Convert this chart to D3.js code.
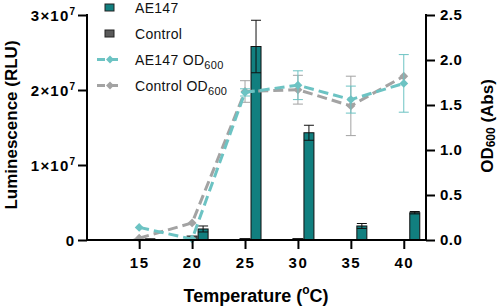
<!DOCTYPE html>
<html>
<head>
<meta charset="utf-8">
<script src="https://cdn.jsdelivr.net/npm/d3@7"></script>
<style>
  body { margin: 0; background: #fff; }
  text { font-family: Arial, "Liberation Sans", sans-serif; }
</style>
</head>
<body>
<svg id="chart" width="498" height="307"></svg>
<script>
// temperatures (oC)
const temps = [15, 20, 25, 30, 35, 40];

// luminescence (RLU), mean and sd
const lumAE147 = [0.1e6, 1.47e6, 2.58e7, 1.43e7, 1.87e6, 3.64e6];
const lumAE147Err = [0.05e6, 0.4e6, 0.35e7, 0.1e7, 0.33e6, 0.16e6];
const lumControl = [0.1e6, 0.53e6, 0.2e6, 0.2e6, 0, 0];

// OD600 (Abs), mean and sd
const odAE147 = [0.14, 0.01, 1.64, 1.72, 1.56, 1.74];
const odAE147Err = [0, 0, 0.04, 0.16, 0.15, 0.32];
const odControl = [0.02, 0.19, 1.65, 1.67, 1.49, 1.82];
const odControlErr = [0, 0, 0.12, 0.16, 0.33, 0];

const lumTicks = [0, 1e7, 2e7, 3e7];
const odTicks = [0, 0.5, 1.0, 1.5, 2.0, 2.5];

const teal = "#117f7f";
const tealLine = "#6cc3c3";
const grayLine = "#a3a3a3";
const controlFill = "#5a5a5a";

const svg = d3.select("#chart");
const pLeft = 87, pRight = 426, pTop = 15, pBottom = 240;

const x = d3.scaleLinear().domain([10.07, 42.1]).range([pLeft, pRight]);
const yL = d3.scaleLinear().domain([0, 3e7]).range([pBottom, pTop]);
const yR = d3.scaleLinear().domain([0, 2.5]).range([pBottom, pTop]);

const barW = 10;

// bars
const bars = svg.append("g");
temps.forEach(function(t, i) {
  // control bar centred on tick
  bars.append("rect")
    .attr("x", x(t) - barW / 2)
    .attr("y", yL(lumControl[i]))
    .attr("width", barW)
    .attr("height", pBottom - yL(lumControl[i]))
    .attr("fill", controlFill)
    .attr("stroke", "#222")
    .attr("stroke-width", 1);
  // AE147 bar just right of tick
  bars.append("rect")
    .attr("x", x(t) + barW / 2 + 1)
    .attr("y", yL(lumAE147[i]))
    .attr("width", barW)
    .attr("height", pBottom - yL(lumAE147[i]))
    .attr("fill", teal)
    .attr("stroke", "#111")
    .attr("stroke-width", 1);
  if (lumAE147Err[i] > 0) {
    const cx = x(t) + barW + 1;
    const y1 = yL(lumAE147[i] + lumAE147Err[i]);
    const y2 = yL(lumAE147[i] - lumAE147Err[i]);
    bars.append("line").attr("x1", cx).attr("x2", cx).attr("y1", y1).attr("y2", y2)
      .attr("stroke", "#111").attr("stroke-width", 1);
    [y1, y2].forEach(function(yy) {
      bars.append("line").attr("x1", cx - barW / 2).attr("x2", cx + barW / 2)
        .attr("y1", yy).attr("y2", yy).attr("stroke", "#111").attr("stroke-width", 1);
    });
  }
});

// OD lines
function drawOD(vals, errs, color) {
  const g = svg.append("g");
  errs.forEach(function(e, i) {
    if (e <= 0) return;
    const cx = x(temps[i]);
    const y1 = yR(vals[i] + e), y2 = yR(vals[i] - e);
    g.append("line").attr("x1", cx).attr("x2", cx).attr("y1", y1).attr("y2", y2)
      .attr("stroke", color).attr("stroke-width", 1);
    [y1, y2].forEach(function(yy) {
      g.append("line").attr("x1", cx - 5).attr("x2", cx + 5).attr("y1", yy).attr("y2", yy)
        .attr("stroke", color).attr("stroke-width", 1);
    });
  });
  const line = d3.line().x(function(d, i) { return x(temps[i]); }).y(function(d) { return yR(d); });
  g.append("path").datum(vals)
    .attr("d", line)
    .attr("fill", "none")
    .attr("stroke", color)
    .attr("stroke-width", 3)
    .attr("stroke-dasharray", "10,5");
  g.selectAll("path.pt").data(vals).enter().append("path")
    .attr("class", "pt")
    .attr("d", d3.symbol().type(d3.symbolDiamond2).size(50))
    .attr("transform", function(d, i) { return "translate(" + x(temps[i]) + "," + yR(d) + ")"; })
    .attr("fill", color);
}
drawOD(odControl, odControlErr, grayLine);
drawOD(odAE147, odAE147Err, tealLine);

// axes
const axStroke = 2;
const leftAxis = svg.append("g").attr("transform", "translate(" + pLeft + ",0)")
  .call(d3.axisLeft(yL).tickValues(lumTicks).tickSize(9).tickFormat(""));
const rightAxis = svg.append("g").attr("transform", "translate(" + pRight + ",0)")
  .call(d3.axisRight(yR).tickValues(odTicks).tickSize(9).tickFormat(d3.format(".1f")));
const bottomAxis = svg.append("g").attr("transform", "translate(0," + pBottom + ")")
  .call(d3.axisBottom(x).tickValues(temps).tickSize(9).tickFormat(d3.format("d")));

[leftAxis, rightAxis, bottomAxis].forEach(function(a) {
  a.select(".domain").attr("stroke", "#000").attr("stroke-width", axStroke);
  a.selectAll(".tick line").attr("stroke", "#000").attr("stroke-width", axStroke);
  a.selectAll("text").attr("fill", "#000").attr("font-size", 15).attr("font-weight", "bold")
    .attr("font-family", "Arial, 'Liberation Sans', sans-serif");
});
leftAxis.select(".domain").attr("d", "M0," + (pTop - 1) + "V" + pBottom);
rightAxis.select(".domain").attr("d", "M0," + (pTop - 1) + "V" + pBottom);
bottomAxis.select(".domain").attr("d", "M" + pLeft + ",0H" + pRight);
rightAxis.selectAll(".tick text").attr("x", 14).attr("letter-spacing", 0.5);
bottomAxis.selectAll(".tick text").attr("y", 17).attr("letter-spacing", 1.5);

// left tick labels: mantissa x 10 with superscript 7, placed from measured widths
leftAxis.selectAll(".tick text").remove();
leftAxis.selectAll(".tick").each(function(d) {
  const tk = d3.select(this);
  const sup = tk.append("text").attr("dy", "-0.1em").attr("text-anchor", "start")
    .attr("font-size", 10).attr("font-weight", "bold").attr("fill", "#000")
    .text(d === 0 ? "" : "7");
  const supW = d === 0 ? 0 : sup.node().getComputedTextLength();
  sup.attr("x", -12 - supW);
  const mant = tk.append("text").attr("dy", "0.35em").attr("text-anchor", "start")
    .attr("font-size", 15).attr("font-weight", "bold").attr("fill", "#000")
    .attr("letter-spacing", d === 0 ? 0 : 1.2)
    .text(d === 0 ? "0" : (d / 1e7) + "×10");
  const mantW = mant.node().getComputedTextLength();
  mant.attr("x", -12 - supW - (d === 0 ? 1 : 0) - mantW);
});

// axis titles
const xt = svg.append("text").attr("x", 256).attr("y", 302)
  .attr("text-anchor", "middle").attr("font-size", 18).attr("font-weight", "bold");
xt.append("tspan").text("Temperature (");
xt.append("tspan").text("o").attr("font-size", 12).attr("dy", -8);
xt.append("tspan").text("C)").attr("dy", 8);

svg.append("text")
  .attr("transform", "translate(17," + 125 + ") rotate(-90)")
  .attr("text-anchor", "middle").attr("font-size", 17).attr("font-weight", "bold")
  .text("Luminescence (RLU)");

const rt = svg.append("text")
  .attr("transform", "translate(493," + 126 + ") rotate(-90)")
  .attr("text-anchor", "middle").attr("font-size", 17).attr("font-weight", "bold");
rt.append("tspan").text("OD");
rt.append("tspan").text("600").attr("font-size", 12).attr("dy", 2);
rt.append("tspan").text(" (Abs)").attr("dy", -2);

// legend
const legend = [
  { label: "AE147", type: "bar", color: teal },
  { label: "Control", type: "bar", color: controlFill },
  { label: "AE147 OD", sub: "600", type: "line", color: tealLine },
  { label: "Control OD", sub: "600", type: "line", color: grayLine }
];
const lg = svg.append("g").attr("transform", "translate(97,7.5)");
legend.forEach(function(d, i) {
  const row = lg.append("g").attr("transform", "translate(0," + (i * 26) + ")");
  if (d.type === "bar") {
    row.append("rect").attr("x", 8).attr("y", -3.5).attr("width", 9).attr("height", 7)
      .attr("fill", d.color).attr("stroke", "#222").attr("stroke-width", 1);
  } else {
    row.append("line").attr("x1", 0).attr("x2", 26).attr("y1", 0).attr("y2", 0)
      .attr("stroke", d.color).attr("stroke-width", 3).attr("stroke-dasharray", "8,5");
    row.append("path").attr("d", d3.symbol().type(d3.symbolDiamond2).size(40))
      .attr("transform", "translate(13,0)").attr("fill", d.color);
  }
  const t = row.append("text").attr("x", 38).attr("y", 5).attr("font-size", 14).attr("fill", "#111")
    .attr("letter-spacing", 0.3);
  t.append("tspan").text(d.label);
  if (d.sub) t.append("tspan").text(d.sub).attr("font-size", 11).attr("dy", 4);
});
</script>
</body>
</html>
